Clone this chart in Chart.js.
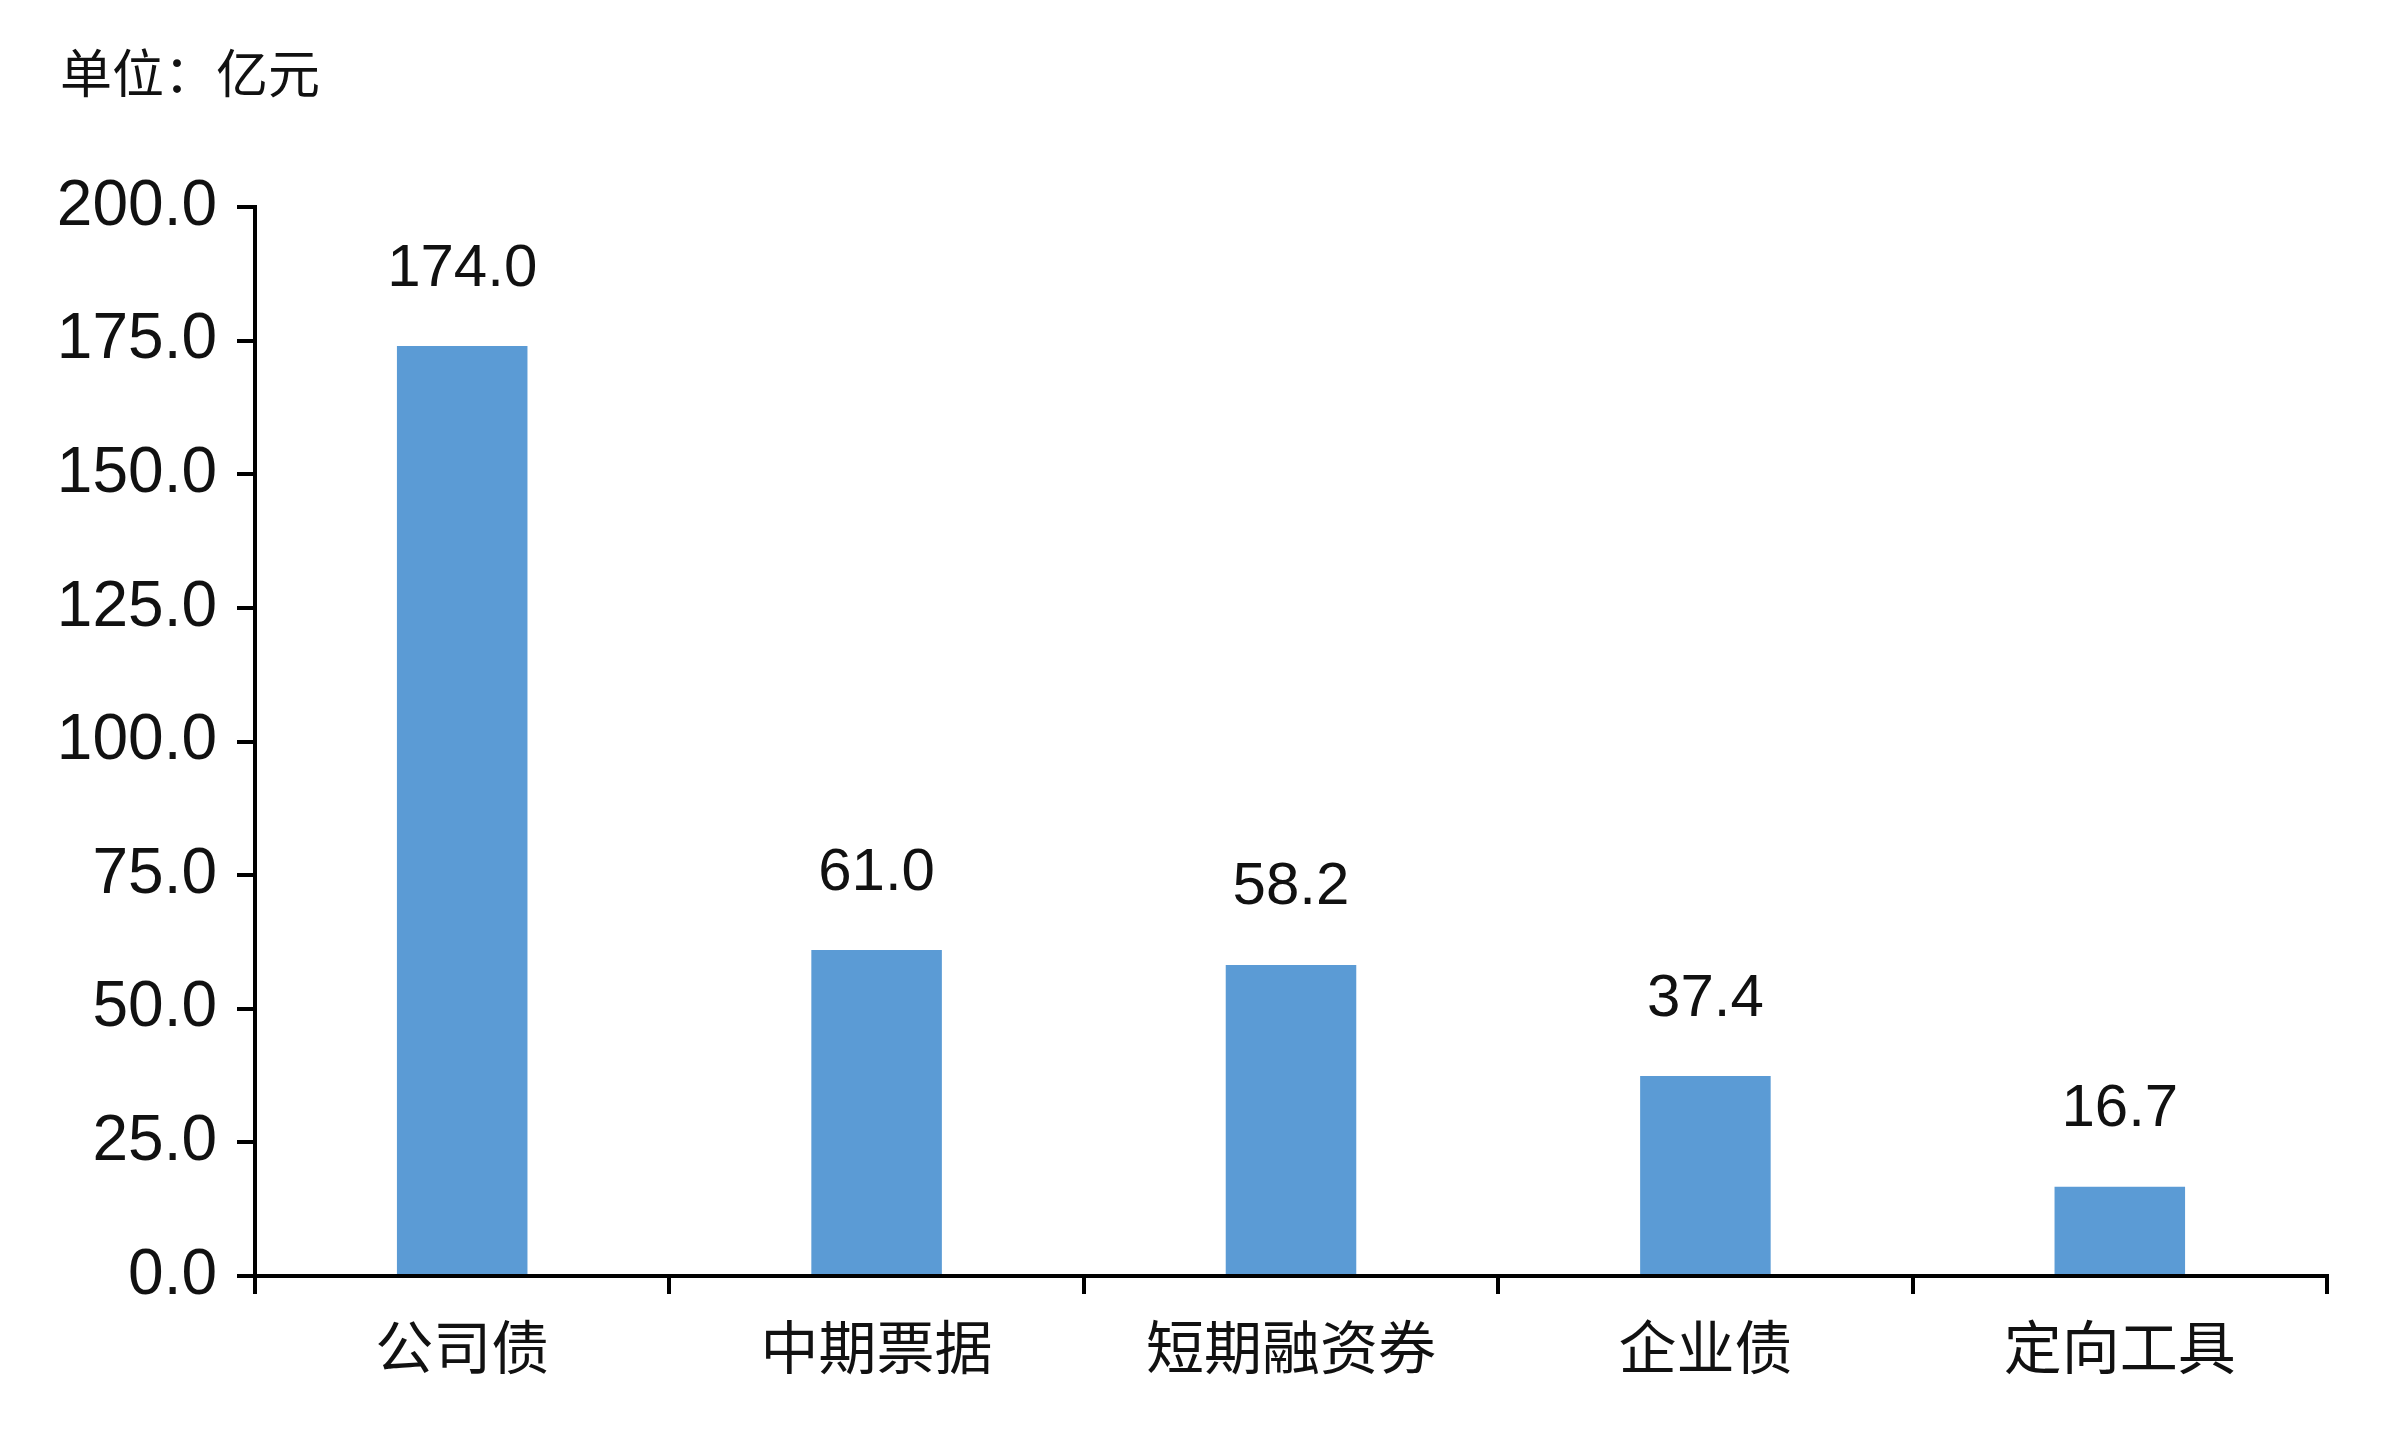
<!DOCTYPE html>
<html><head><meta charset="utf-8">
<script src="https://cdn.jsdelivr.net/npm/chart.js@4/dist/chart.umd.min.js"></script>
<style>html,body{margin:0;background:#fff}#w{width:2400px;height:1440px}</style>
</head><body><div id="w"><canvas id="c"></canvas></div>
<script>
const categories = ["公司债","中期票据","短期融资券","企业债","定向工具"];
const values = [174.0, 61.0, 58.2, 37.4, 16.7];
const unitLabel = "单位：亿元";
const FONT = "'Noto Sans CJK SC','Noto Sans',sans-serif";
const NUMF = "'Liberation Sans',sans-serif";
const labelsPlugin = {
  id:'lbl',
  afterDatasetsDraw(chart){
    const ctx=chart.ctx; const meta=chart.getDatasetMeta(0);
    ctx.save(); ctx.font="60px "+NUMF; ctx.fillStyle="#111"; ctx.textAlign="center"; ctx.textBaseline="middle";
    meta.data.forEach((b,i)=>ctx.fillText(values[i].toFixed(1), b.x, b.y-77));
    ctx.textAlign="left"; ctx.font="52px "+FONT;
    ctx.fillText(unitLabel, 60, 73);
    ctx.restore();
  }
};
new Chart(document.getElementById('c'),{
  type:'bar',
  data:{labels:categories,datasets:[{data:values,backgroundColor:'#5b9bd5',barPercentage:0.315,categoryPercentage:1}]},
  options:{responsive:true,maintainAspectRatio:false,animation:false,
    layout:{padding:{top:207,right:73,left:0,bottom:0}},
    plugins:{legend:{display:false},tooltip:{enabled:false}},
    scales:{
      x:{grid:{offset:true,drawOnChartArea:false,tickLength:18,color:'#000',lineWidth:4},
         border:{color:'#000',width:4},
         ticks:{font:{size:58,family:FONT},color:'#111',padding:18},
         afterFit(s){s.height=164;}},
      y:{min:0,max:200,grid:{drawOnChartArea:false,tickLength:18,color:'#000',lineWidth:4},
         border:{color:'#000',width:4},
         ticks:{stepSize:25,font:{size:64,family:NUMF},color:'#111',padding:20,callback:v=>v.toFixed(1)},
         afterFit(s){s.width=255;}}
    }},
  plugins:[labelsPlugin]
});
</script></body></html>
